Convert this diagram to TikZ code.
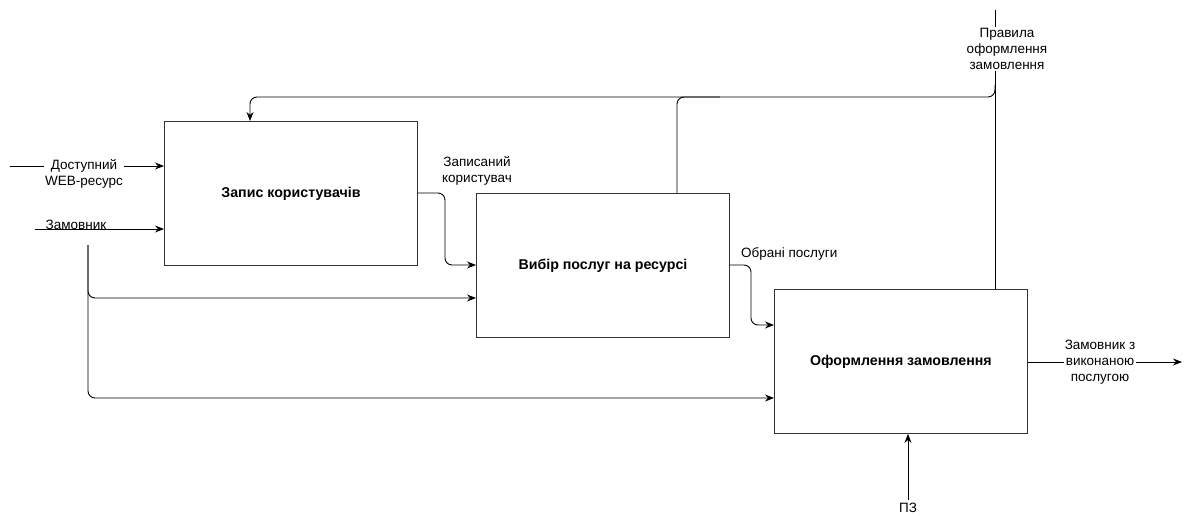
\documentclass[tikz,border=0pt]{standalone}
\usepackage{fontspec}
\setmainfont{Liberation Sans}
\usetikzlibrary{arrows.meta}
\begin{document}
\begin{tikzpicture}[x=1pt,y=-1pt,
  box/.style={draw=black!80,line width=0.9pt,minimum width=253pt,minimum height=144pt,anchor=north west,inner sep=0pt,font=\fontsize{14.2}{16}\selectfont\bfseries},
  lbl/.style={font=\fontsize{13.5}{16}\selectfont,align=center,inner sep=1pt},
  wlbl/.style={lbl,fill=white},
  conn/.style={line width=0.9pt,rounded corners=7pt},
  arr/.style={conn,-{Stealth[length=9pt,width=7pt]}}]
\useasboundingbox (0,0) rectangle (1187,516);
\node[box] (b1) at (164,121) {Запис користувачів};
\node[box] (b2) at (476,193) {Вибір послуг на ресурсі};
\node[box] (b3) at (774,289) {Оформлення замовлення};
% inputs
\coordinate (in1) at (10,166);
\coordinate (in2) at (35,229);
\draw[arr] (in1) -- (b1.west |- in1);
\node[wlbl] (l1) at (84,174) {Доступний\\WEB-ресурс};
\draw[arr] (in2) -- (b1.west |- in2);
\node[lbl] (l2) at (76,225) {Замовник};
\coordinate (br) at (88,245);
\draw[arr] (br) -- (88,298) -- (b2.west |- 0,298);
\draw[arr] (br) -- (88,398) -- (b3.west |- 0,398);
% box1 -> box2
\draw[arr] (b1.east |- 0,193) -- (445,193) -- (445,265) -- (b2.west |- 0,265);
\node[lbl] (l3) at (477,171) {Записаний\\користувач};
% box2 -> box3
\draw[arr] (b2.east |- 0,265) -- (751,265) -- (751,325) -- (b3.west |- 0,325);
\node[lbl,anchor=west] (l4) at (740,254) {Обрані послуги};
% control from top
\coordinate (ctop) at (995,10);
\draw[conn] (ctop) -- (b3.north -| 995,0);
\node[wlbl] (l5) at (1007,49) {Правила\\оформлення\\замовлення};
\draw[arr] (995,85) -- (995,97) -- (250,97) -- (b1.north -| 250,0);
\draw[conn] (720,97) -- (677,97) -- (b2.north -| 677,0);
% output
\coordinate (out) at (1182,362);
\draw[arr] (b3.east |- out) -- (out);
\node[wlbl] (l6) at (1100,362) {Замовник з\\виконаною\\послугою};
% mechanism
\coordinate (pz) at (908,500);
\draw[arr] (pz) -- (b3.south -| pz);
\node[lbl] (l7) at (908,508) {ПЗ};
\end{tikzpicture}
\end{document}
